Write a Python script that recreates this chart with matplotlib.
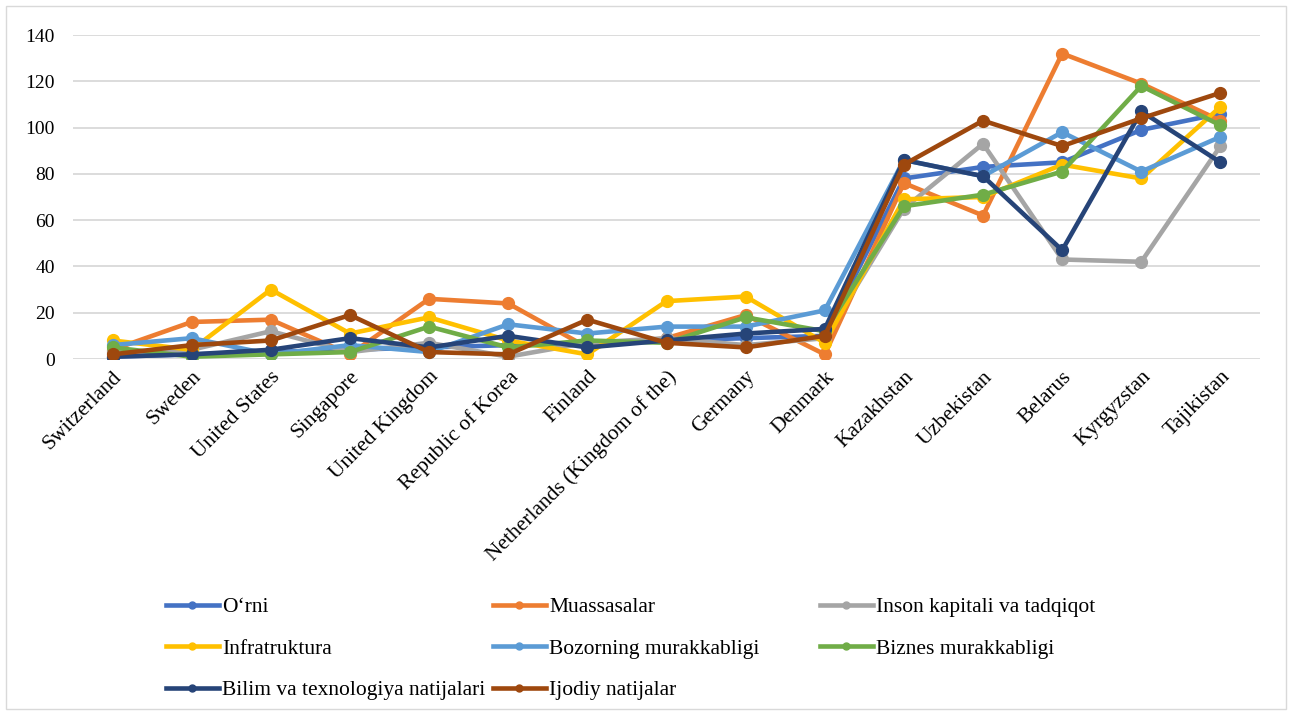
import matplotlib
matplotlib.use("Agg")
import matplotlib.pyplot as plt
from matplotlib.lines import Line2D
from matplotlib.patches import Rectangle

# Davlatlar
countries = ["Switzerland", "Sweden", "United States", "Singapore", "United Kingdom",
             "Republic of Korea", "Finland", "Netherlands (Kingdom of the)", "Germany",
             "Denmark", "Kazakhstan", "Uzbekistan", "Belarus", "Kyrgyzstan", "Tajikistan"]

# Ko'rsatkichlar (reyting o'rinlari)
orni = [1, 2, 3, 4, 5, 6, 7, 8, 9, 10, 78, 83, 85, 99, 106]
muassasalar = [4, 16, 17, 2, 26, 24, 5, 9, 19, 2, 76, 62, 132, 119, 103]
inson_kapitali = [3, 4, 12, 3, 7, 1, 7, 9, 6, 9, 65, 93, 43, 42, 92]
infratruktura = [8, 4, 30, 11, 18, 8, 2, 25, 27, 7, 69, 70, 84, 78, 109]
bozor = [6, 9, 2, 6, 3, 15, 11, 14, 14, 21, 86, 79, 98, 81, 96]
biznes = [5, 1, 2, 3, 14, 5, 8, 7, 18, 12, 66, 71, 81, 118, 101]
bilim = [1, 2, 4, 9, 5, 10, 5, 8, 11, 13, 86, 79, 47, 107, 85]
ijodiy = [2, 6, 8, 19, 3, 2, 17, 7, 5, 10, 84, 103, 92, 104, 115]

series = [
    ("O\u2018rni", orni, "#4472C4"),
    ("Muassasalar", muassasalar, "#ED7D31"),
    ("Inson kapitali va tadqiqot", inson_kapitali, "#A5A5A5"),
    ("Infratruktura", infratruktura, "#FFC000"),
    ("Bozorning murakkabligi", bozor, "#5B9BD5"),
    ("Biznes murakkabligi", biznes, "#70AD47"),
    ("Bilim va texnologiya natijalari", bilim, "#264478"),
    ("Ijodiy natijalar", ijodiy, "#9E480E"),
]

plt.rcParams['font.family'] = ['Liberation Serif', 'DejaVu Serif']

fig = plt.figure(figsize=(12.92, 7.15), dpi=100)
ax = fig.add_axes([73 / 1292, 1 - 359 / 715, (1260 - 73) / 1292, (359 - 35) / 715])

x = list(range(len(countries)))
handles = {}
for name, vals, color in series:
    line, = ax.plot(x, vals, color=color, linewidth=3.3, marker='o', markersize=8.5,
                    solid_joinstyle='round', label=name)
    handles[name] = line

ax.set_xlim(-0.5, len(countries) - 0.5)
ax.set_ylim(0, 140)
ax.set_yticks(range(0, 141, 20))
ax.grid(axis='y', color='#d9d9d9', linewidth=1.3)
ax.set_axisbelow(True)
for s in ax.spines.values():
    s.set_visible(False)
ax.tick_params(axis='y', length=0, labelsize=14, pad=13)
ax.tick_params(axis='x', length=0, labelsize=15.5, pad=6)
ax.set_xticks(x)
ax.set_xticklabels(countries, rotation=45, ha='right', rotation_mode='anchor')

# Legend: uchta ustun, Excel kabi
cols = [
    (166, ["O\u2018rni", "Infratruktura", "Bilim va texnologiya natijalari"]),
    (493, ["Muassasalar", "Bozorning murakkabligi", "Ijodiy natijalar"]),
    (820, ["Inson kapitali va tadqiqot", "Biznes murakkabligi"]),
]
for xpx, names in cols:
    hs = [Line2D([0], [0], color=handles[n].get_color(), linewidth=3.3, marker='o',
                 markersize=5) for n in names]
    fig.legend(hs, names, loc='upper left', bbox_to_anchor=(xpx / 1292, 1 - 597 / 715),
               frameon=False, fontsize=15.5, handlelength=2.45, handletextpad=0.15,
               labelspacing=1.0, borderpad=0, borderaxespad=0)

fig.patches.append(Rectangle((6 / 1292, 6 / 715), 1280 / 1292, 703 / 715, transform=fig.transFigure,
                             fill=False, edgecolor='#d9d9d9', linewidth=1))

fig.savefig("out.png", dpi=100)
